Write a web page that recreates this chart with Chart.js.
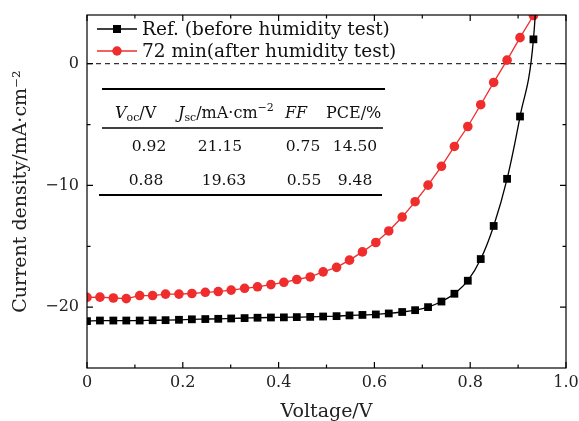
<!DOCTYPE html>
<html>
<head>
<meta charset="utf-8">
<script src="https://cdn.jsdelivr.net/npm/chart.js@4.4.1/dist/chart.umd.min.js"></script>
<style>
  html, body { margin: 0; padding: 0; background: #fff; }
  #wrap { width: 579px; height: 421px; }
</style>
</head>
<body>
<div id="wrap"><canvas id="jv" width="579" height="421"></canvas></div>
<script>
// J-V data
const voltage = [0, 0.027, 0.055, 0.082, 0.110, 0.137, 0.164, 0.192, 0.219, 0.247,
  0.274, 0.301, 0.329, 0.356, 0.384, 0.411, 0.438, 0.466, 0.493, 0.521,
  0.548, 0.575, 0.603, 0.630, 0.658, 0.685, 0.712, 0.740, 0.767, 0.795,
  0.822, 0.849, 0.877, 0.904, 0.932, 0.959];
const jRef = [-21.15, -21.1, -21.1, -21.1, -21.1, -21.08, -21.07, -21.04, -21.0, -20.98,
  -20.96, -20.93, -20.9, -20.87, -20.85, -20.84, -20.82, -20.8, -20.77, -20.74,
  -20.68, -20.64, -20.6, -20.52, -20.4, -20.25, -20.0, -19.54, -18.9, -17.83,
  -16.05, -13.33, -9.46, -4.34, 2.0, 20];
const jAfter = [-19.2, -19.18, -19.25, -19.3, -19.05, -19.05, -18.93, -18.93, -18.88, -18.78,
  -18.72, -18.6, -18.45, -18.33, -18.15, -17.96, -17.73, -17.52, -17.1, -16.73,
  -16.14, -15.46, -14.69, -13.74, -12.6, -11.34, -9.98, -8.43, -6.8, -5.16,
  -3.37, -1.54, 0.29, 2.14, 3.96, 6.0];

const seriesNames = ['Ref. (before humidity test)', '72 min(after humidity test)'];
const xTicks = [0, 0.2, 0.4, 0.6, 0.8, 1.0];
const xMinor = [0.1, 0.3, 0.5, 0.7, 0.9];
const yTicks = [-20, -10, 0];
const yMinor = [-15, -5];
const tableRows = [
  ['0.92', '21.15', '0.75', '14.50'],
  ['0.88', '19.63', '0.55', '9.48']
];

const RED = '#ef2d2d';
const SERIF = '"DejaVu Serif", serif';

function drawRuns(ctx, x, y, runs) {
  runs.forEach(r => {
    ctx.font = r[1];
    ctx.fillText(r[0], x, y + r[2]);
    x += ctx.measureText(r[0]).width;
  });
}

const decor = {
  id: 'decor',
  beforeDatasetsDraw(chart) {
    const ctx = chart.ctx, a = chart.chartArea;
    const y0 = chart.scales.y.getPixelForValue(0);
    ctx.save();
    ctx.strokeStyle = '#333';
    ctx.lineWidth = 1.3;
    ctx.setLineDash([5, 4]);
    ctx.beginPath();
    ctx.moveTo(a.left, y0);
    ctx.lineTo(a.right, y0);
    ctx.stroke();
    ctx.restore();
  },
  afterDraw(chart) {
    const ctx = chart.ctx, a = chart.chartArea;
    const xs = chart.scales.x, ys = chart.scales.y;
    ctx.save();
    // frame
    ctx.strokeStyle = '#000';
    ctx.lineWidth = 1.2;
    ctx.strokeRect(a.left, a.top, a.right - a.left, a.bottom - a.top);
    // inward ticks on all four sides
    ctx.beginPath();
    const tx = (v, len) => {
      const p = xs.getPixelForValue(v);
      ctx.moveTo(p, a.bottom); ctx.lineTo(p, a.bottom - len);
      ctx.moveTo(p, a.top); ctx.lineTo(p, a.top + len);
    };
    const ty = (v, len) => {
      const p = ys.getPixelForValue(v);
      ctx.moveTo(a.left, p); ctx.lineTo(a.left + len, p);
      ctx.moveTo(a.right, p); ctx.lineTo(a.right - len, p);
    };
    xTicks.forEach(v => tx(v, 6));
    xMinor.forEach(v => tx(v, 3.5));
    yTicks.forEach(v => ty(v, 6));
    yMinor.forEach(v => ty(v, 3.5));
    ctx.stroke();

    // legend
    const legY = [29, 51];
    const styles = [['#000', 'rect'], [RED, 'circle']];
    legY.forEach((ly, i) => {
      ctx.strokeStyle = styles[i][0];
      ctx.fillStyle = styles[i][0];
      ctx.lineWidth = 1.3;
      ctx.beginPath();
      ctx.moveTo(97, ly); ctx.lineTo(137, ly);
      ctx.stroke();
      if (styles[i][1] === 'rect') {
        ctx.fillRect(113, ly - 4, 8, 8);
      } else {
        ctx.beginPath();
        ctx.arc(117, ly, 4.7, 0, Math.PI * 2);
        ctx.fill();
      }
      ctx.fillStyle = '#111';
      ctx.font = '18.5px ' + SERIF;
      ctx.textBaseline = 'middle';
      ctx.textAlign = 'left';
      ctx.fillText(seriesNames[i], 142, ly + 1);
    });

    // parameter table
    ctx.strokeStyle = '#000';
    ctx.lineWidth = 2;
    ctx.beginPath();
    ctx.moveTo(102, 89); ctx.lineTo(385, 89);
    ctx.moveTo(99, 195); ctx.lineTo(382, 195);
    ctx.stroke();
    ctx.lineWidth = 1.3;
    ctx.beginPath();
    ctx.moveTo(102, 128); ctx.lineTo(383, 128);
    ctx.stroke();

    ctx.fillStyle = '#111';
    ctx.textBaseline = 'alphabetic';
    ctx.textAlign = 'left';
    const N = '16px ' + SERIF, I = 'italic 16px ' + SERIF, S = '11px ' + SERIF;
    drawRuns(ctx, 115, 118, [['V', I, 0], ['oc', S, 3], ['/V', N, 0]]);
    drawRuns(ctx, 178, 118, [['J', I, 0], ['sc', S, 3], ['/mA\u00b7cm', N, 0], ['\u22122', S, -7]]);
    drawRuns(ctx, 285, 118, [['FF', I, 0]]);
    drawRuns(ctx, 326, 118, [['PCE/%', N, 0]]);

    ctx.textAlign = 'center';
    ctx.font = '15.5px ' + SERIF;
    const cols = [[149, 220, 303, 355], [146, 224, 304, 355]];
    const rowY = [151, 185];
    tableRows.forEach((row, r) => {
      row.forEach((t, c) => ctx.fillText(t, cols[r][c], rowY[r]));
    });
    ctx.restore();
  }
};

new Chart(document.getElementById('jv'), {
  type: 'line',
  data: {
    datasets: [
      {
        label: seriesNames[0],
        data: voltage.map((v, i) => ({ x: v, y: jRef[i] })),
        borderColor: '#000',
        backgroundColor: '#000',
        borderWidth: 1.3,
        pointStyle: 'rect',
        pointRadius: 5.5,
        pointBorderWidth: 0,
        cubicInterpolationMode: 'monotone',
        clip: 0
      },
      {
        label: seriesNames[1],
        data: voltage.map((v, i) => ({ x: v, y: jAfter[i] })),
        borderColor: RED,
        backgroundColor: RED,
        borderWidth: 1.3,
        pointStyle: 'circle',
        pointRadius: 4.8,
        pointBorderWidth: 0,
        tension: 0,
        clip: 0
      }
    ]
  },
  options: {
    responsive: false,
    animation: false,
    layout: { padding: { top: 15, right: 13, left: 0, bottom: 0 } },
    plugins: { legend: { display: false }, tooltip: { enabled: false } },
    scales: {
      x: {
        type: 'linear',
        min: 0, max: 1,
        afterBuildTicks: s => { s.ticks = xTicks.map(v => ({ value: v })); },
        afterFit: s => { s.height = 53; s.paddingLeft = 0; s.paddingRight = 0; },
        grid: { display: false, drawTicks: false },
        border: { display: false },
        ticks: {
          padding: 5,
          color: '#222',
          font: { family: 'DejaVu Serif', size: 16 },
          maxRotation: 0,
          callback: v => (v === 0 ? '0' : v.toFixed(1))
        },
        title: {
          display: true,
          text: 'Voltage/V',
          color: '#222',
          font: { family: 'DejaVu Serif', size: 19 },
          padding: { top: 0, bottom: -2 }
        }
      },
      y: {
        type: 'linear',
        min: -25, max: 4,
        afterBuildTicks: s => { s.ticks = yTicks.map(v => ({ value: v })); },
        afterFit: s => { s.width = 87; s.paddingTop = 0; s.paddingBottom = 0; },
        grid: { display: false, drawTicks: false },
        border: { display: false },
        ticks: {
          padding: 8,
          color: '#222',
          font: { family: 'DejaVu Serif', size: 16 },
          callback: v => (v < 0 ? '\u2212' + Math.abs(v) : String(v))
        },
        title: {
          display: true,
          text: 'Current density/mA\u00b7cm\u207b\u00b2',
          color: '#222',
          font: { family: 'DejaVu Serif', size: 19 },
          padding: { top: 10, bottom: 0 }
        }
      }
    }
  },
  plugins: [decor]
});
</script>
</body>
</html>
